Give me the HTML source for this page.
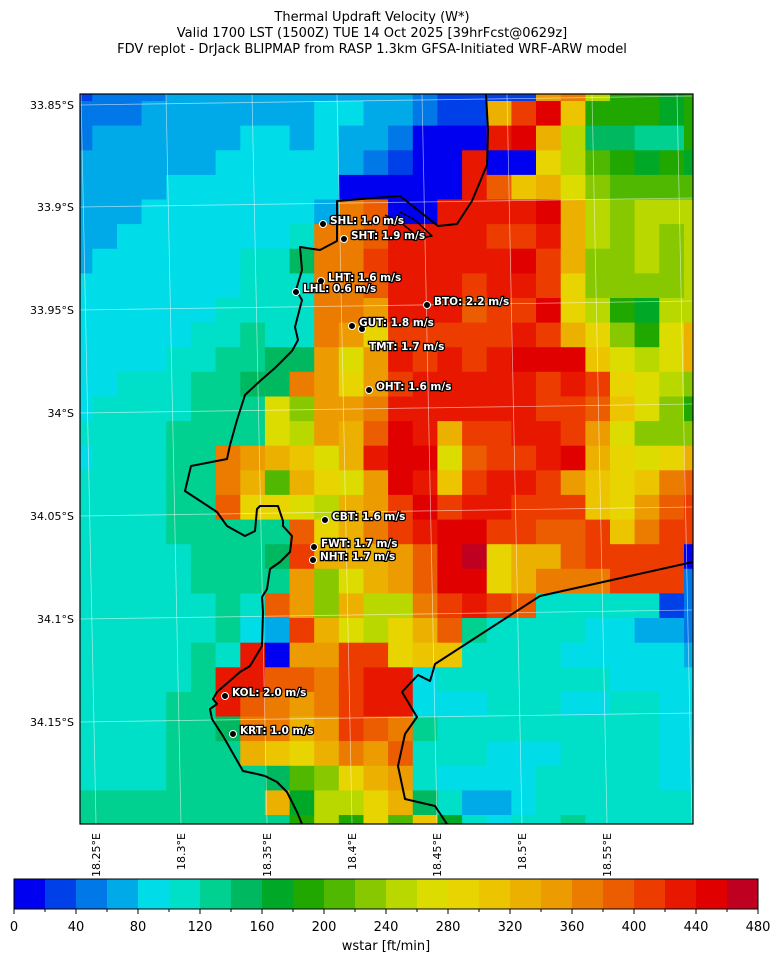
<!DOCTYPE html>
<html><head><meta charset="utf-8"><style>
html,body{margin:0;padding:0;background:#fff;width:781px;height:962px;overflow:hidden}
svg{display:block;font-family:"DejaVu Sans","Liberation Sans",sans-serif}
</style></head><body>
<svg id="s" width="781" height="962" viewBox="0 0 781 962" xmlns="http://www.w3.org/2000/svg">
<text x="372" y="21" font-size="13" text-anchor="middle">Thermal Updraft Velocity (W*)</text>
<text x="372" y="37" font-size="13" text-anchor="middle">Valid 1700 LST (1500Z) TUE 14 Oct 2025 [39hrFcst@0629z]</text>
<text x="372" y="53" font-size="13" text-anchor="middle">FDV replot - DrJack BLIPMAP from RASP 1.3km GFSA-Initiated WRF-ARW model</text>
<defs><clipPath id="cp"><rect x="80" y="94" width="613" height="730"/></clipPath></defs>
<g id="grid" clip-path="url(#cp)"></g>
<g clip-path="url(#cp)" stroke="#fff" stroke-opacity="0.55" stroke-width="0.8" fill="none">
<line x1="81" y1="94" x2="96" y2="824"/><line x1="166" y1="94" x2="181" y2="824"/><line x1="252" y1="94" x2="267" y2="824"/><line x1="337" y1="94" x2="352" y2="824"/><line x1="422" y1="94" x2="437" y2="824"/><line x1="507" y1="94" x2="522" y2="824"/><line x1="592" y1="94" x2="607" y2="824"/><line x1="677" y1="94" x2="692" y2="824"/>
<line x1="80" y1="105" x2="693" y2="96"/><line x1="80" y1="207" x2="693" y2="198"/><line x1="80" y1="310" x2="693" y2="301"/><line x1="80" y1="413" x2="693" y2="404"/><line x1="80" y1="516" x2="693" y2="507"/><line x1="80" y1="619" x2="693" y2="610"/><line x1="80" y1="722" x2="693" y2="713"/>
</g>
<g clip-path="url(#cp)" fill="none" stroke="#000" stroke-width="2" stroke-linejoin="round">
<polyline points="486,94 488,130 487,165 472,201 457,224 438,226 400,196 337,201 337,241 320,250 300,247 302,270 296,290 302,300 295,327 298,340 292,351 275,368 260,381 245,395 237,420 230,445 227,459 191,466 185,491 217,512 227,526 245,536 255,531 257,509 260,506 278,506 283,521 283,526 292,536 290,552 280,562 270,569 267,589 262,597 263,612 262,646 250,666 240,672 217,692 213,699 217,704 210,709 212,719 223,736 243,771 257,774 265,776 277,782 287,792 297,812 302,824"/>
<polyline points="693,562 540,596 435,664 433,671 430,681 418,675 402,692 417,717 405,734 398,766 405,799 435,806 447,824"/>
<polyline stroke-width="1.5" points="385,215 400,222 420,238 432,236 415,220 400,212"/>
</g>
<rect x="80" y="94" width="613" height="730" fill="none" stroke="#000" stroke-width="1.2"/>
<g font-size="11" text-anchor="end">
<text x="74" y="109">33.85°S</text><text x="74" y="211">33.9°S</text><text x="74" y="314">33.95°S</text><text x="74" y="417">34°S</text><text x="74" y="520">34.05°S</text><text x="74" y="623">34.1°S</text><text x="74" y="726">34.15°S</text>
</g>
<g font-size="11" text-anchor="end">
<text transform="translate(100,833) rotate(-90)">18.25°E</text>
<text transform="translate(185,833) rotate(-90)">18.3°E</text>
<text transform="translate(271,833) rotate(-90)">18.35°E</text>
<text transform="translate(356,833) rotate(-90)">18.4°E</text>
<text transform="translate(441,833) rotate(-90)">18.45°E</text>
<text transform="translate(526,833) rotate(-90)">18.5°E</text>
<text transform="translate(611,833) rotate(-90)">18.55°E</text>
</g>
<g id="st" font-size="10.5" font-weight="bold"></g>
<g id="cb"></g>
<text x="386" y="950" font-size="13" text-anchor="middle">wstar [ft/min]</text>
</svg>
<script>
var P={a:"#0000f0",b:"#0040e8",c:"#0078e8",d:"#00aae8",e:"#00dce8",f:"#00e0c8",g:"#00d090",h:"#00b860",i:"#00a828",j:"#20a800",k:"#50b800",l:"#88c800",m:"#b8d800",n:"#dcdc00",o:"#e8d400",p:"#ecc400",q:"#ecb000",r:"#ec9c00",s:"#ec7c00",t:"#ec5c00",u:"#ec3c00",v:"#e81800",w:"#e00000",x:"#c00020"};
var R=["bcccddddddddddcbbbbrsmjjij","cccdddddddeeddcbbquwpjjjij","cddddddeededdcaaavwqmhhggj","ddddddeeeeedcbaavaaomkjiji","ddddeeeeeeeaaaaavtpqnlkkkk","dddeeeeeeedstaavvvvwqmlmmm","ddeeeeeeefsstvvvvuuvqmlmlm","deeeeeeffhssuvvvvvwuqllmlm","eeeeeeefffsstvvvuvvuollllm","eeeeeeffffssrvvvtuuwomjimm","eeeeeffgffsrouuuuuvuqoljnq","eeeeffgghhrnrvuvuvwwwpnmnq","eefffgghhsroruvvvvvuvuonml","effffgggnlrrsvvvvvvuutpnlj","ffffggggnmrqtwvquuvvurnlll","efffggsrqpnqvwwntuuvwqonoq","ffffggsqkqonrwvpuvvurpopst","ffffggtoonmqruwuvvuuuportu","ffffgggggtoqsuvwwuuttupsuu","fffffggghuqqqrtwxoqqtuuuua","fffffggggrlnqrtwwoqsssuuuc","ffffffgftrlqmmsuvutfffffbc","ffffffgeduqnmoqtgffffeeddc","fffffgfvarruuoppffffeeeeed","fffffgvvttsuvvefffffffeeee","ffffggvtsrsuvveeefffeeffee","ffffgghssqrutsgfffffffffee","ffffgggqpoqsrtfffeeeffffee","ffffgggghkloqrfeeeefffffee","ggggggggqimmoqhfddefffffff","gggggggggjmjokpifeffgfffff"];
var NS="http://www.w3.org/2000/svg";
function el(parent,tag,attrs,txt){var e=document.createElementNS(NS,tag);for(var k in attrs)e.setAttribute(k,attrs[k]);if(txt!=null)e.textContent=txt;parent.appendChild(e);return e;}
var G=document.getElementById("grid");
for(var j=0;j<R.length;j++)for(var i=0;i<26;i++){var ch=R[j].charAt(i);if(!P[ch])continue;el(G,"rect",{x:(67.7+24.65*i).toFixed(1),y:(76.4+24.62*j).toFixed(1),width:25.2,height:25.2,fill:P[ch]});}
var C=document.getElementById("cb"),K="abcdefghijklmnopqrstuvwx";
for(var k=0;k<24;k++)el(C,"rect",{x:14+31*k,y:879,width:31.5,height:30,fill:P[K.charAt(k)]});
el(C,"rect",{x:14,y:879,width:744,height:30,fill:"none",stroke:"#000","stroke-width":1});
for(var k=0;k<=24;k++){var x=14+31*k;el(C,"line",{x1:x,y1:909,x2:x,y2:(k%2?912:914),stroke:"#000"});if(k%2==0)el(C,"text",{x:x,y:931,"font-size":13,"text-anchor":"middle"},String(k*20));}
var S=[[323,224,"SHL: 1.0 m/s"],[344,239,"SHT: 1.9 m/s"],[321,281,"LHT: 1.6 m/s"],[296,292,"LHL: 0.6 m/s"],[427,305,"BTO: 2.2 m/s"],[352,326,"GUT: 1.8 m/s"],[362,350,"TMT: 1.7 m/s"],[369,390,"OHT: 1.6 m/s"],[325,520,"CBT: 1.6 m/s"],[314,547,"FWT: 1.7 m/s"],[313,560,"NHT: 1.7 m/s"],[225,696,"KOL: 2.0 m/s"],[233,734,"KRT: 1.0 m/s"]];
var T=document.getElementById("st");
el(T,"circle",{cx:362,cy:329,r:3.5,fill:"#000",stroke:"#fff","stroke-width":1});
for(var k=0;k<S.length;k++){var t=S[k];if(k!=6)el(T,"circle",{cx:t[0],cy:t[1],r:3.5,fill:"#000",stroke:"#fff","stroke-width":1});el(T,"text",{x:t[0]+7,y:t[1],fill:"#fff",stroke:"#000","stroke-width":2.5,"paint-order":"stroke"},t[2]);}
</script>
</body></html>
